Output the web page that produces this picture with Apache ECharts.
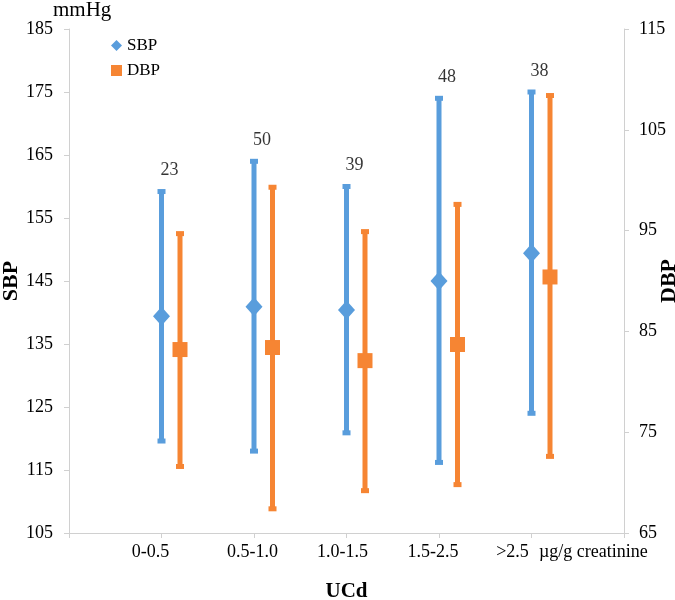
<!DOCTYPE html>
<html><head><meta charset="utf-8">
<script src="https://cdn.jsdelivr.net/npm/echarts@6/dist/echarts.min.js"></script>
<style>html,body{margin:0;padding:0;background:#fff}#c{width:675px;height:600px}</style>
</head><body><div id="c"></div>
<script>
const categories = ['0-0.5','0.5-1.0','1.0-1.5','1.5-2.5','>2.5'];
const counts = [23, 50, 39, 48, 38];
const sbpMean = [139.4, 140.9, 140.4, 145.0, 149.4];
const sbpLow  = [119.6, 118.0, 120.9, 116.2, 124.0];
const sbpHigh = [159.2, 164.0, 160.0, 174.0, 175.0];
const dbpMean = [83.2, 83.4, 82.1, 83.7, 90.4];
const dbpLow  = [71.6, 67.4, 69.2, 69.8, 72.6];
const dbpHigh = [94.7, 99.3, 94.9, 97.6, 108.4];
const sbpTicks = [105,115,125,135,145,155,165,175,185];
const dbpTicks = [65,75,85,95,105,115];

const BLUE = '#599DDC', ORANGE = '#F68533';
const FONT = 'Liberation Serif';
const DBP_SHIFT = 0.2;
const labelPads = [22, 3, 8, 12, 38];

function errRender(params, api){
  const x = api.value(0), lo = api.value(1), hi = api.value(2);
  const pLo = api.coord([x, lo]), pHi = api.coord([x, hi]);
  const color = api.visual('color');
  const cw = 8, ch = 5;
  return {type:'group', children:[
    {type:'line', shape:{x1:pLo[0],y1:pLo[1],x2:pHi[0],y2:pHi[1]}, style:{stroke:color,lineWidth:5}},
    {type:'rect', shape:{x:pHi[0]-cw/2,y:pHi[1]-ch/2,width:cw,height:ch}, style:{fill:color}},
    {type:'rect', shape:{x:pLo[0]-cw/2,y:pLo[1]-ch/2,width:cw,height:ch}, style:{fill:color}}
  ]};
}

const rich = {};
labelPads.forEach((p,i)=>{ rich['l'+i] = {fontSize:18, fontFamily:FONT, color:'#000', padding:[0,p,0,0]}; });

const chart = echarts.init(document.getElementById('c'), null, {renderer:'canvas'});
const axisLine = {show:true, lineStyle:{color:'#D0D0D0', width:1}};
chart.setOption({
  animation:false,
  textStyle:{fontFamily:FONT},
  grid:{left:69, right:51, top:29, bottom:67, containLabel:false, outerBoundsMode:'none'},
  legend:{
    orient:'vertical', left:106, top:32, itemWidth:11, itemHeight:11, itemGap:8,
    textStyle:{fontFamily:FONT, fontSize:17, color:'#000'},
    data:[{name:'SBP', icon:'diamond'},{name:'DBP', icon:'rect'}]
  },
  xAxis:{
    type:'value', min:0, max:6, interval:1,
    axisLine:axisLine, splitLine:{show:false},
    axisTick:{show:true, inside:false, length:5, lineStyle:{color:'#D0D0D0'}},
    axisLabel:{
      margin:10, fontSize:18, color:'#000', fontFamily:FONT,
      formatter:function(v){
        const i = Math.round(v) - 1;
        if (i < 0 || i >= categories.length) return '';
        return '{l' + i + '|' + categories[i] + '}';
      },
      rich:rich
    },
    name:'UCd', nameLocation:'middle', nameGap:48, nameMoveOverlap:false,
    nameTextStyle:{fontFamily:FONT, fontWeight:'bold', fontSize:21, color:'#000'}
  },
  yAxis:[{
    type:'value', min:105, max:185,
    axisLine:axisLine, splitLine:{show:false},
    axisTick:{show:true, length:5, lineStyle:{color:'#D0D0D0'}, customValues:sbpTicks},
    axisLabel:{margin:16, fontSize:18, color:'#000', fontFamily:FONT, customValues:sbpTicks},
    name:'SBP', nameLocation:'middle', nameGap:47, nameRotate:90, nameMoveOverlap:false,
    nameTextStyle:{fontFamily:FONT, fontWeight:'bold', fontSize:22, color:'#000'}
  },{
    type:'value', min:65, max:115, position:'right',
    axisLine:axisLine, splitLine:{show:false},
    axisTick:{show:true, length:5, lineStyle:{color:'#D0D0D0'}, customValues:dbpTicks},
    axisLabel:{margin:15, fontSize:18, color:'#000', fontFamily:FONT, customValues:dbpTicks},
    name:'DBP', nameLocation:'middle', nameGap:34, nameRotate:90, nameMoveOverlap:false,
    nameTextStyle:{fontFamily:FONT, fontWeight:'bold', fontSize:22, color:'#000'}
  }],
  graphic:[
    {type:'text', left:53, top:0, style:{text:'mmHg', fontFamily:FONT, fontSize:21, fill:'#000'}},
    {type:'text', left:539, top:543, style:{text:'\u00b5g/g creatinine', fontFamily:FONT, fontSize:18, fill:'#000'}}
  ],
  series:[
    {name:'SBPerr', type:'custom', yAxisIndex:0, itemStyle:{color:BLUE}, renderItem:errRender,
      data:categories.map((c,i)=>[i+1, sbpLow[i], sbpHigh[i]]), z:2},
    {name:'DBPerr', type:'custom', yAxisIndex:1, itemStyle:{color:ORANGE}, renderItem:errRender,
      data:categories.map((c,i)=>[i+1+DBP_SHIFT, dbpLow[i], dbpHigh[i]]), z:2},
    {name:'SBP', type:'scatter', yAxisIndex:0, symbol:'diamond', symbolSize:[17,19],
      itemStyle:{color:BLUE, opacity:1}, z:3,
      data:categories.map((c,i)=>[i+1, sbpMean[i]])},
    {name:'DBP', type:'scatter', yAxisIndex:1, symbol:'rect', symbolSize:15,
      itemStyle:{color:ORANGE, opacity:1}, z:3,
      data:categories.map((c,i)=>[i+1+DBP_SHIFT, dbpMean[i]])},
    {name:'n', type:'scatter', yAxisIndex:0, symbolSize:0, silent:true,
      data:categories.map((c,i)=>[i+1, sbpHigh[i]]),
      label:{show:true, position:'top', distance:12, offset:[8,0],
        formatter:function(p){return String(counts[p.dataIndex]);},
        fontFamily:FONT, fontSize:18, color:'#000'}}
  ]
});
</script></body></html>
